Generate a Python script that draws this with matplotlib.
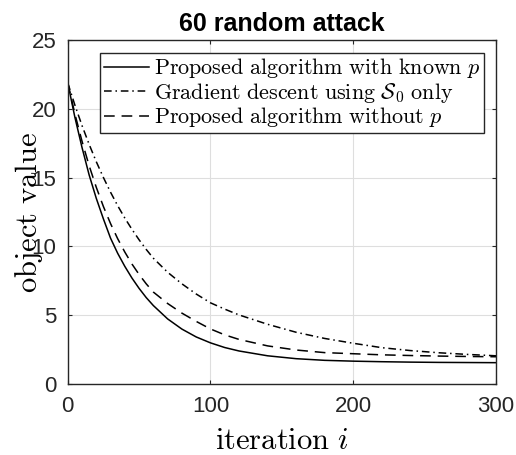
import numpy as np
import matplotlib
matplotlib.use("Agg")
import matplotlib.pyplot as plt

plt.rcParams["mathtext.fontset"] = "cm"
plt.rcParams["font.family"] = ["Liberation Sans", "DejaVu Sans"]

# iteration index at which the objective was sampled
iterations = [0, 5, 10, 15, 20, 25, 30, 35, 40, 45, 50, 55, 60, 70, 80, 90,
              100, 110, 120, 140, 160, 180, 200, 220, 240, 260, 280, 300]

# proposed algorithm, p known
obj_known_p = [21.9, 19.4, 17.2, 15.2, 13.5, 12.0, 10.6, 9.5, 8.55, 7.7, 6.95,
               6.28, 5.7, 4.73, 3.99, 3.42, 2.99, 2.65, 2.40, 2.05, 1.84, 1.72,
               1.66, 1.62, 1.59, 1.57, 1.56, 1.55]

# gradient descent restricted to S_0
obj_gd_s0 = [21.9, 20.28, 18.79, 17.42, 16.16, 15.01, 13.94, 12.96, 12.06,
             11.24, 10.48, 9.78, 9.14, 8.12, 7.28, 6.54, 5.9, 5.44, 5.02,
             4.34, 3.76, 3.31, 2.96, 2.64, 2.43, 2.27, 2.15, 2.05]

# proposed algorithm, p unknown
obj_unknown_p = [21.9, 19.64, 17.65, 15.87, 14.3, 12.9, 11.66, 10.56, 9.59,
                 8.72, 7.96, 7.28, 6.68, 5.85, 5.15, 4.55, 4.0, 3.57, 3.24,
                 2.77, 2.47, 2.28, 2.2, 2.12, 2.07, 2.03, 2.0, 1.98]

labels = [r"$\mathrm{Proposed\ algorithm\ with\ known}\ p$",
          r"$\mathrm{Gradient\ descent\ using}\ \mathcal{S}_0\ \mathrm{only}$",
          r"$\mathrm{Proposed\ algorithm\ without}\ p$"]

x_ticks = [0, 100, 200, 300]
y_ticks = [0, 5, 10, 15, 20, 25]

axis_col = "#262626"

fig = plt.figure(figsize=(5.16, 4.55), dpi=100)
ax = fig.add_axes([67.7 / 516, 71 / 455, 428.3 / 516, 344 / 455])

ax.plot(iterations, obj_known_p, color="black", lw=1.1, ls="-", label=labels[0])
ax.plot(iterations, obj_gd_s0, color="black", lw=1.1,
        dashes=(5, 2.5, 1, 2.5), label=labels[1])
ax.plot(iterations, obj_unknown_p, color="black", lw=1.1,
        dashes=(7, 4.5), label=labels[2])

ax.set_xlim(0, 300)
ax.set_ylim(0, 25)
ax.set_xticks(x_ticks)
ax.set_yticks(y_ticks)
ax.grid(True, color="#dedede", lw=0.8)
ax.set_axisbelow(True)

for s in ax.spines.values():
    s.set_color(axis_col)
    s.set_linewidth(1.0)

ax.tick_params(axis="both", direction="in", length=3.2, width=0.8,
               color=axis_col, labelcolor=axis_col, labelsize=16,
               top=True, right=True)
ax.tick_params(axis="x", pad=9)
ax.tick_params(axis="y", pad=8)

ax.set_title("60 random attack", fontsize=18, fontweight="bold", pad=6.7)

fig.text(0.5 * (67.7 + 496) / 516, 6 / 455, r"$\mathrm{iteration}\ i$",
         fontsize=22, ha="center", va="baseline")
fig.text(37 / 516, 1 - 212 / 455, r"$\mathrm{object\ value}$", fontsize=22,
         rotation=90, ha="center", va="baseline", rotation_mode="anchor")

leg = ax.legend(loc="upper right", bbox_to_anchor=(0.972, 0.963),
                borderaxespad=0, fontsize=15.9, handlelength=2.05,
                handletextpad=0.2, labelspacing=0.02, borderpad=0.17,
                fancybox=False, framealpha=1, edgecolor=axis_col)
leg.get_frame().set_linewidth(1.0)

fig.savefig("out.png", dpi=100)
